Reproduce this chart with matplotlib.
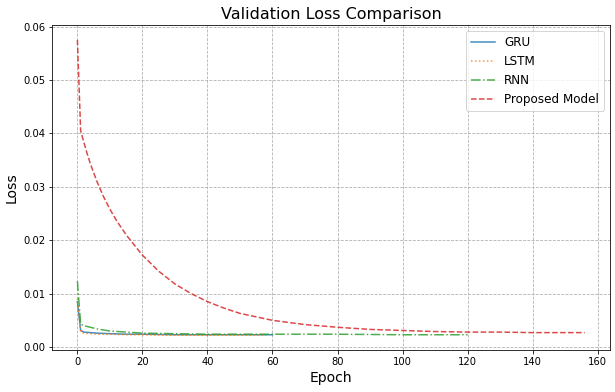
import numpy as np
import matplotlib.pyplot as plt

# =====================================================
# VALIDATION LOSS
# =====================================================
gru_epochs = [0, 1, 2, 4, 6, 10, 15, 20, 30, 40, 50, 60]
gru_loss = [0.0085, 0.0031, 0.0028, 0.0027, 0.0026, 0.0025, 0.0024, 0.0024, 0.0023, 0.0023, 0.0023, 0.0023]

lstm_epochs = [0, 1, 2, 4, 6, 10, 15, 20, 30, 40, 50, 58]
lstm_loss = [0.0091, 0.0028, 0.0026, 0.0025, 0.0024, 0.0024, 0.0023, 0.0023, 0.0022, 0.0022, 0.0022, 0.0022]

rnn_epochs = [0, 1, 2, 4, 6, 10, 15, 20, 30, 40, 60, 80, 100, 120]
rnn_loss = [0.0123, 0.0043, 0.0040, 0.0037, 0.0034, 0.0030, 0.0028, 0.0026, 0.0025, 0.0024, 0.0024, 0.0024, 0.0023, 0.0023]

prop_epochs = [0, 1, 2, 3, 4, 6, 8, 10, 12, 15, 20, 25, 30, 35, 40, 45, 50,
               60, 70, 80, 90, 100, 110, 120, 130, 140, 150, 156]
prop_loss = [0.0575, 0.0405, 0.0383, 0.0362, 0.0343, 0.0310, 0.0282, 0.0258, 0.0237, 0.0210,
             0.0172, 0.0142, 0.0118, 0.0100, 0.0085, 0.0073, 0.0063,
             0.0050, 0.0042, 0.0037, 0.0033, 0.0031, 0.0029, 0.0028, 0.0028, 0.0027, 0.0027, 0.0027]

# =====================================================
# PLOT
# =====================================================
fig = plt.figure(figsize=(615 / 72, 392 / 72), dpi=72)
ax = fig.add_axes([0.0846, 0.107, 0.9073, 0.829])

ax.plot(gru_epochs, gru_loss, "-", color="tab:blue", alpha=0.85, label="GRU")
ax.plot(lstm_epochs, lstm_loss, ":", color="tab:orange", alpha=0.85, label="LSTM")
ax.plot(rnn_epochs, rnn_loss, "-.", color="tab:green", alpha=0.85, label="RNN")
ax.plot(prop_epochs, prop_loss, "--", color="tab:red", alpha=0.85, label="Proposed Model")

ax.set_title("Validation Loss Comparison", fontsize=16)
ax.set_xlabel("Epoch", fontsize=14)
ax.set_ylabel("Loss", fontsize=14)
ax.legend(fontsize=12)
ax.grid(True, linestyle="--")

plt.savefig("out.png", dpi=72)
